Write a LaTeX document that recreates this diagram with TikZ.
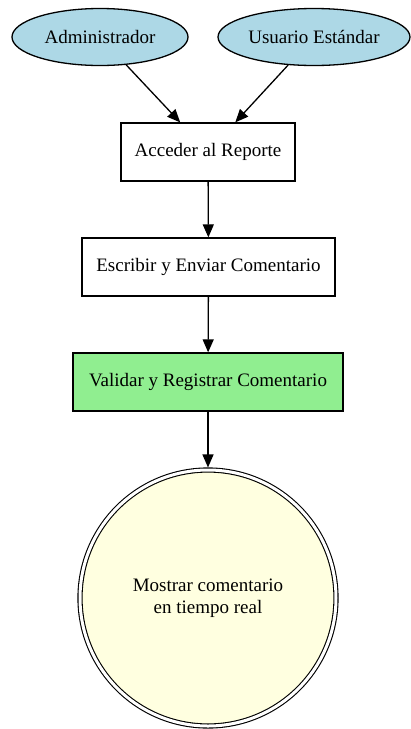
\documentclass[tikz,border=0pt]{standalone}
\usepackage{fontspec}
\setmainfont{Liberation Serif}
\usetikzlibrary{arrows.meta,shapes.geometric}
\definecolor{lblue}{HTML}{ADD8E6}
\definecolor{lgreen}{HTML}{90EE90}
\definecolor{lyellow}{HTML}{FFFFE0}
\begin{document}
\begin{tikzpicture}[
  x=1pt, y=-1pt,
  font=\fontsize{19}{22}\selectfont,
  line width=1.3pt,
  actor/.style={draw,ellipse,fill=lblue,
    minimum height=57pt,inner sep=0pt},
  proc/.style={draw,rectangle,fill=white,
    minimum height=58pt,align=center},
  endst/.style={draw,circle,fill=lyellow,double,line width=1.1pt,
    double distance=3pt,minimum size=256pt,align=center,inner sep=0pt},
  arr/.style={-{Triangle[length=13pt,width=11pt]}}]
\useasboundingbox (0,0) rectangle (411,729);
\node[actor,minimum width=176pt] (adm) at (100,37) {Administrador};
\node[actor,minimum width=192pt] (usr) at (314,37) {Usuario Estándar};
\node[proc,minimum width=174pt] (acc) at (208,152) {Acceder al Reporte};
\node[proc,minimum width=253pt] (esc) at (208.5,267) {Escribir y Enviar Comentario};
\node[proc,minimum width=270pt,fill=lgreen] (val) at (208,382) {Validar y Registrar Comentario};
\node[endst] (mos) at (208,598) {Mostrar comentario\\en tiempo real};
% conectores
\draw[arr] (adm) -- (acc);
\draw[arr] (usr) -- (acc);
\draw[arr] (acc) -- (esc);
\draw[arr] (esc) -- (val);
\draw[arr,shorten >=2pt] (val) -- (mos);
\end{tikzpicture}
\end{document}
